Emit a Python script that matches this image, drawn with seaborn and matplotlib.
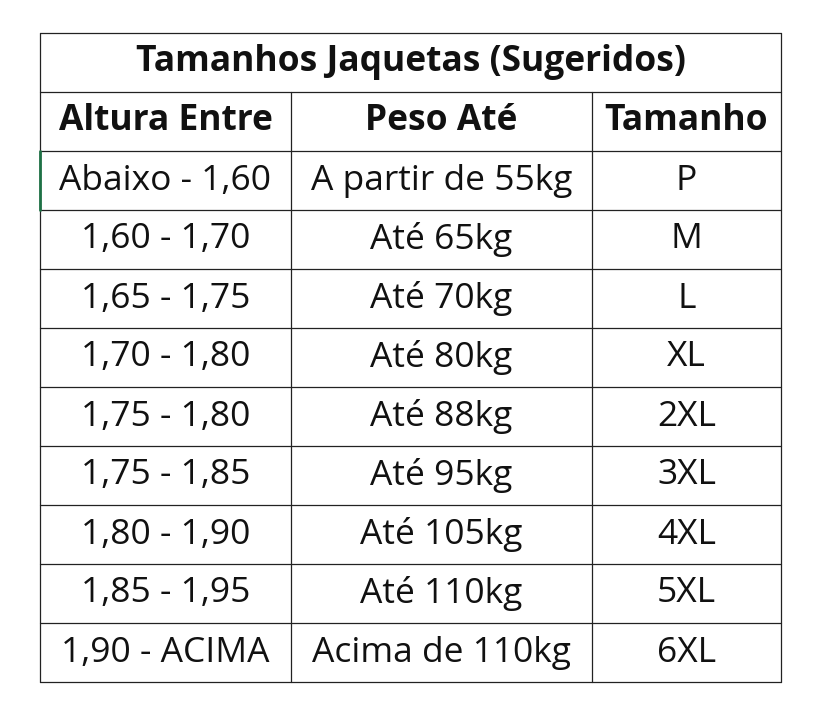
import matplotlib
matplotlib.use("Agg")
import matplotlib.pyplot as plt
import seaborn as sns

title = "Tamanhos Jaquetas (Sugeridos)"
headers = ["Altura Entre", "Peso Até", "Tamanho"]
alturas = ["Abaixo - 1,60", "1,60 - 1,70", "1,65 - 1,75", "1,70 - 1,80", "1,75 - 1,80",
           "1,75 - 1,85", "1,80 - 1,90", "1,85 - 1,95", "1,90 - ACIMA"]
pesos = ["A partir de 55kg", "Até 65kg", "Até 70kg", "Até 80kg", "Até 88kg",
         "Até 95kg", "Até 105kg", "Até 110kg", "Acima de 110kg"]
tamanhos = ["P", "M", "L", "XL", "2XL", "3XL", "4XL", "5XL", "6XL"]

sns.set_style("white")
plt.rcParams['font.family'] = ['Open Sans', 'DejaVu Sans']

fig = plt.figure(figsize=(8.2, 7.16), dpi=100)
ax = fig.add_axes([0, 0, 1, 1])
ax.set_xlim(0, 820)
ax.set_ylim(716, 0)
ax.axis("off")

cols = [40, 291, 592, 781]
top, row_h = 33, 59
nrows = 2 + len(alturas)
ys = [top + i * row_h for i in range(nrows + 1)]
lc = "#222222"
for y in ys:
    ax.plot([cols[0], cols[-1]], [y, y], color=lc, lw=0.9)
for i, x in enumerate(cols):
    y0 = ys[0] if i in (0, len(cols) - 1) else ys[1]
    ax.plot([x, x], [y0, ys[-1]], color=lc, lw=0.9)
ax.plot([40, 40], [ys[2], ys[3]], color="#1e7145", lw=2)

fs = 25.5
ax.text((cols[0] + cols[-1]) / 2, (ys[0] + ys[1]) / 2, title, ha="center", va="center",
        fontsize=fs, fontweight="bold", color="#111111")
for j, h in enumerate(headers):
    ax.text((cols[j] + cols[j + 1]) / 2, (ys[1] + ys[2]) / 2, h, ha="center", va="center",
            fontsize=fs, fontweight="bold", color="#111111")
for r, vals in enumerate(zip(alturas, pesos, tamanhos)):
    for j, v in enumerate(vals):
        ax.text((cols[j] + cols[j + 1]) / 2, (ys[r + 2] + ys[r + 3]) / 2, v, ha="center",
                va="center", fontsize=fs, color="#111111")

fig.savefig("out.png", dpi=100, facecolor="white")
